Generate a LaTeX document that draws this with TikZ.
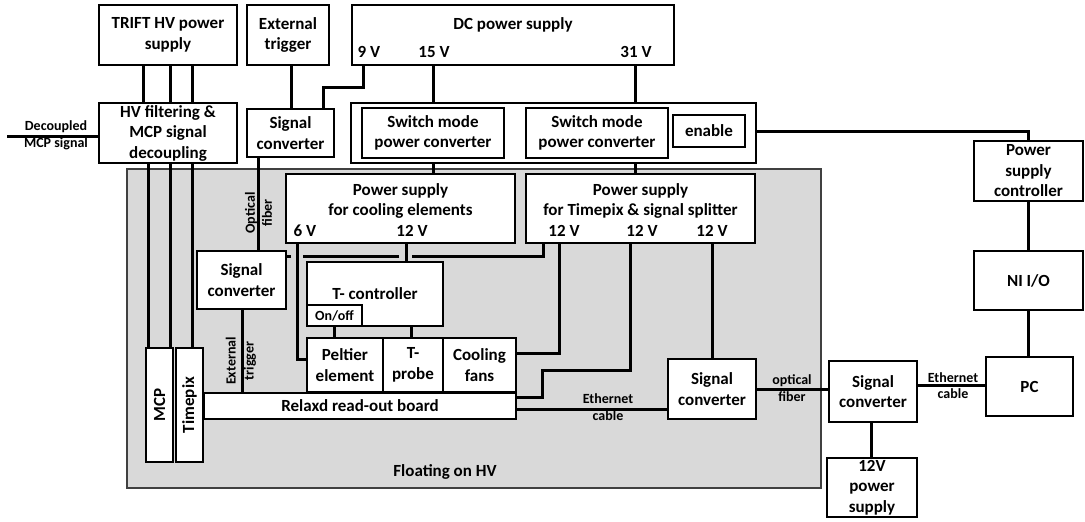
\documentclass[tikz,border=0pt]{standalone}
\usepackage{fontspec}
\setmainfont{Carlito}
\usetikzlibrary{calc}
\pgfdeclarelayer{back}
\pgfdeclarelayer{wires}
\pgfsetlayers{back,wires,main}
\definecolor{hvgray}{RGB}{217,217,217}
\begin{document}
\begin{tikzpicture}[x=1pt,y=-1pt,
  big/.style={font=\fontsize{17}{20.5}\selectfont\bfseries, align=center, inner sep=0pt},
  small/.style={font=\fontsize{14}{16}\selectfont\bfseries, align=center, inner sep=0pt},
  box/.style={draw, fill=white, line width=1.8pt, inner sep=0pt, big},
  bx/.style 2 args={minimum width=#1pt, minimum height=#2pt},
  conn/.style={line width=3pt, line join=miter},
  thinconn/.style={line width=1.6pt}]
\useasboundingbox (0,0) rectangle (1085,522);

% floating HV region
\begin{pgfonlayer}{back}
\node[fill=hvgray, draw=black!75, line width=1.4pt, inner sep=0pt, minimum width=694pt, minimum height=319pt] (hv) at (474,328.5) {};
\end{pgfonlayer}

% top row
\node[box,bx={138}{60}] (trift) at (168,35) {TRIFT HV power\\supply};
\node[box,bx={82}{60}] (ext) at (288,35) {External\\trigger};
\node[box,bx={322}{60}] (dc) at (513,35) {};
\node[big] (dct) at (513,25) {DC power supply};
\node[big] (v9) at (369,52) {9 V};
\node[big] (v15) at (434,52) {15 V};
\node[big] (v31) at (636,52) {31 V};

% second row
\node[box,bx={138}{60}] (hvf) at (168,133) {HV filtering \&\\MCP signal\\decoupling};
\node[box,bx={87}{48}] (sc1) at (290.5,133) {Signal\\converter};
\node[box,bx={405}{60}] (smo) at (553.5,133) {};
\node[box,bx={142}{50}] (sm1) at (433,133) {Switch mode\\power converter};
\node[box,bx={142}{50}] (sm2) at (597,133) {Switch mode\\power converter};
\node[box,bx={72}{32}] (en) at (709,131) {enable};

% power supplies inside HV region
\node[box,bx={229}{69}] (psc) at (400.5,208.5) {};
\node[big] (psct) at (400.5,201) {Power supply\\for cooling elements};
\node[big] (v6) at (305,231) {6 V};
\node[big] (v12c) at (412,231) {12 V};
\node[box,bx={229}{69}] (pst) at (640.5,208.5) {};
\node[big] (pstt) at (640.5,201) {Power supply\\for Timepix \& signal splitter};
\node[big] (v12a) at (564,231) {12 V};
\node[big] (v12b) at (642,231) {12 V};
\node[big] (v12d) at (712,231) {12 V};

% inner blocks
\node[box,bx={89}{58}] (sc2) at (241.5,280) {Signal\\converter};
\node[box,bx={136}{64}] (tc) at (375,294) {T- controller};
\node[box,bx={55}{21},small] (onoff) at (334.5,315.5) {On/off};
\node[box,bx={76}{54}] (pel) at (345,365) {Peltier\\element};
\node[box,bx={60}{54}] (tp) at (413,365) {T-\\probe};
\node[box,bx={73}{54}] (fan) at (479.5,365) {Cooling\\fans};
\node[box,bx={312}{26}] (rx) at (360,406) {Relaxd read-out board};
\node[box,bx={27}{114}] (mcp) at (159.5,405) {};
\node[big,rotate=90] (mcpt) at (mcp) {MCP};
\node[box,bx={27}{114}] (tpx) at (189.5,405) {};
\node[big,rotate=90] (tpxt) at (tpx) {Timepix};
\node[box,bx={88}{60}] (sc3) at (712,389) {Signal\\converter};
\node[big] (float) at (445,472) {Floating on HV};

% outside right
\node[box,bx={88}{61}] (sc4) at (873,391.5) {Signal\\converter};
\node[box,bx={90}{59}] (ps12) at (872,487.5) {12V\\power\\supply};
\node[box,bx={109}{60}] (psctl) at (1028.5,171) {Power\\supply\\controller};
\node[box,bx={109}{59}] (nio) at (1028.5,280.5) {NI I/O};
\node[box,bx={87}{59}] (pc) at (1029.5,386.5) {PC};

% connector labels
\node[small,font=\fontsize{14}{17}\selectfont\bfseries] (declab) at (56,135.5) {Decoupled\\MCP signal};
\node[small,font=\fontsize{14}{17}\selectfont\bfseries,rotate=90] (optlab) at (258.5,213) {Optical\\fiber};
\node[small,font=\fontsize{14}{18}\selectfont\bfseries,rotate=90] (extlab) at (241,361) {External\\trigger};
\node[small] (eth1a) at (608,399) {Ethernet};
\node[small] (eth1b) at (608,416) {cable};
\node[small] (opt2a) at (792,381) {optical};
\node[small] (opt2b) at (792,397) {fiber};
\node[small] (eth2a) at (953,378) {Ethernet};
\node[small] (eth2b) at (953,394) {cable};

\coordinate (dec) at (7,136);

\begin{pgfonlayer}{wires}
\foreach \x in {143,170,192} \draw[conn] (trift.south -| \x,0) -- (hvf.north -| \x,0);
\draw[conn] (ext.south -| 291,0) -- (sc1.north -| 291,0);
\draw[conn] (dc.south -| 363,0) -- ++(0,22) -| (sc1.north -| 323,0);
\draw[conn] (dc.south -| 433,0) -- (smo.north -| 433,0);
\draw[conn] (dc.south -| 635,0) -- (smo.north -| 635,0);
\draw[thinconn] (sm2.east |- en.west) -- (en.west);
\draw[conn] (en.east) -| (psctl.north);
\draw[conn] (smo.south -| 433,0) -- (psc.north -| 433,0);
\draw[conn] (smo.south -| 635,0) -- (pst.north -| 635,0);
\draw[conn] (psctl.south) -- (nio.north);
\draw[conn] (nio.south) -- (nio.south |- pc.north);
\draw[conn] (sc4.east |- 0,385) -- (pc.west |- 0,385);
\draw[conn] (sc3.east |- 0,389) -- (sc4.west |- 0,389);
\draw[conn] (sc4.south -| 871,0) -- (ps12.north -| 871,0);
\draw[conn] (rx.east |- 0,409) -- (sc3.west |- 0,409);
\draw[conn] (pst.south -| 712,0) -- (sc3.north -| 712,0);
\draw[conn] (pst.south -| 630,0) |- (542,370) |- (rx.east |- 0,397);
\draw[conn] (pst.south -| 559,0) |- (fan.east |- 0,353);
\draw[conn] (pst.south -| 543,0) |- (412,256);
\draw[conn] (399,256) -- (303,256);
\draw[conn] (291,256) -- (sc2.east |- 0,256);
\draw[conn] (psc.south -| 297,0) |- (pel.west |- 0,359);
\draw[conn] (psc.south -| 406,0) -- (tc.north -| 406,0);
\draw[conn] (onoff.south) -- (onoff.south |- pel.north);
\draw[conn] (tc.south -| 411,0) -- (tp.north -| 411,0);
\draw[conn] (hvf.south -| 148,0) -- (mcp.north -| 148,0);
\draw[conn] (hvf.south -| 170,0) -- (mcp.north -| 170,0);
\draw[conn] (hvf.south -| 192,0) -- (tpx.north -| 192,0);
\draw[conn] (sc1.south -| 258,0) -- (sc2.north -| 258,0);
\draw[conn] (sc2.south -| 242,0) -- (rx.north -| 242,0);
\draw[conn] (dec) -- (hvf.west |- dec);
\end{pgfonlayer}
\end{tikzpicture}
\end{document}
